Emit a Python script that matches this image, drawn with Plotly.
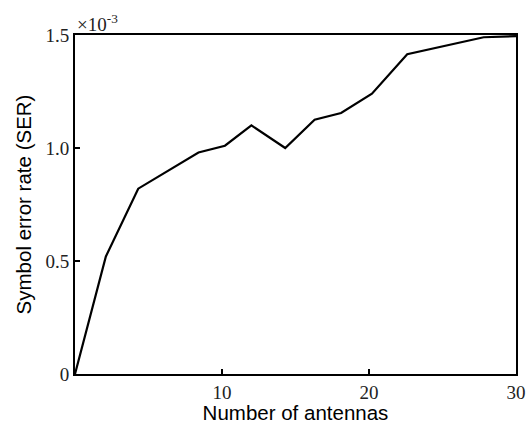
import plotly.graph_objects as go

# Number of antennas and the resulting symbol error rate (in units of 1e-3)
antennas = [0, 2.1, 4.3, 8.4, 10.2, 12.0, 14.3, 16.3, 18.1, 20.2, 22.6, 27.8, 30]
ser_e3 = [0, 0.52, 0.82, 0.98, 1.01, 1.10, 1.00, 1.125, 1.155, 1.24, 1.415, 1.49, 1.495]

x_ticks = [10, 20, 30]
y_ticks = [0, 0.5, 1.0, 1.5]
y_tick_text = ["0", "0.5", "1.0", "1.5"]

fig = go.Figure()
fig.add_trace(go.Scatter(
    x=antennas, y=ser_e3, mode="lines",
    line=dict(color="black", width=2.2),
    showlegend=False,
))

tick_font = dict(family="Liberation Serif", size=19, color="#222")
title_font = dict(family="Liberation Sans", size=20.5, color="black")

fig.update_xaxes(
    range=[0, 30], tickvals=x_ticks, ticks="inside", ticklen=5,
    tickwidth=1.5, tickcolor="black", showgrid=False, zeroline=False,
    showline=True, linecolor="black", linewidth=2, mirror=True,
    tickfont=tick_font, automargin=False,
    title=dict(text="Number of antennas", font=title_font, standoff=7),
)
fig.update_yaxes(
    range=[0, 1.5], tickvals=y_ticks, ticktext=y_tick_text, ticks="inside",
    ticklen=5, tickwidth=1.5, tickcolor="black", showgrid=False,
    zeroline=False, showline=True, linecolor="black", linewidth=2,
    mirror=True, tickfont=tick_font, automargin=False,
    title=dict(text="Symbol error rate (SER)", font=title_font, standoff=8),
)

fig.add_annotation(
    text="×10<sup>-3</sup>", xref="paper", yref="paper", x=0, y=1,
    xanchor="left", yanchor="bottom", showarrow=False, yshift=-2,
    font=dict(family="Liberation Serif", size=19, color="#222"),
)

fig.update_layout(
    template="none",
    width=531, height=424,
    margin=dict(l=75, r=15, t=35, b=50),
    paper_bgcolor="white", plot_bgcolor="white",
)

fig.write_html("out.html")
